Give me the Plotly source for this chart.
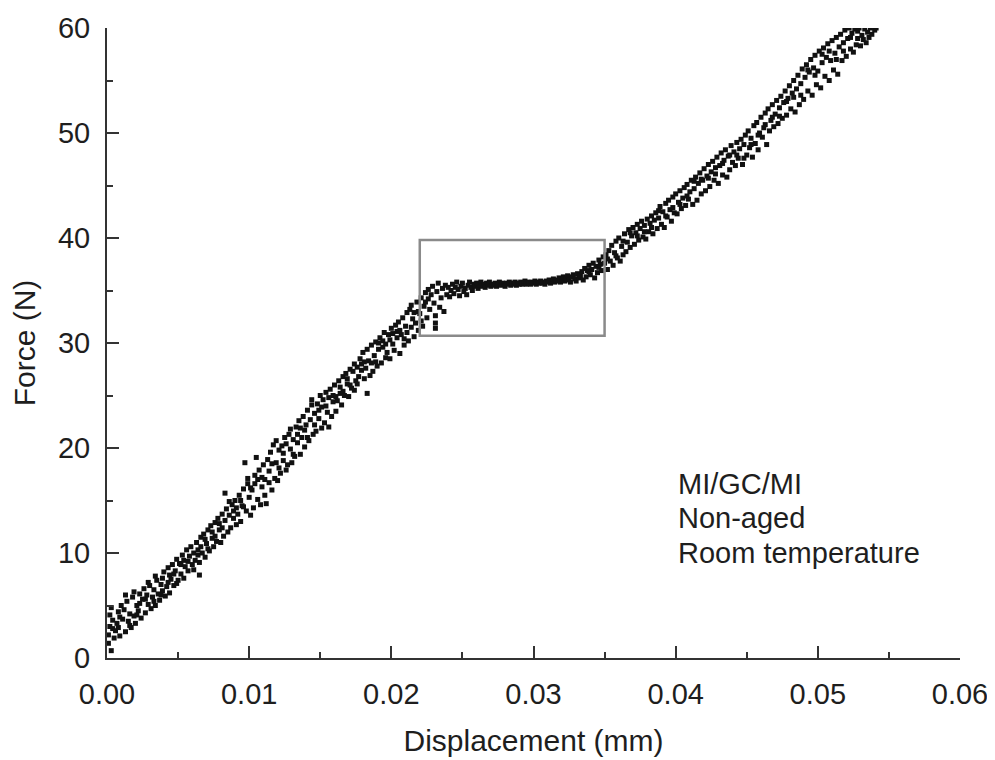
import plotly.graph_objects as go

# ---- data (displacement in mm, force in N) ----
elastic_points = [
    (0.0003, 0.7), (0.0001, 2.2), (0.0002, 3.0), (0.0004, 3.6), (0.0002, 4.1), (0.0005, 1.9), (0.0003, 4.8), (0.0006, 2.6), (0.0001, 1.4),
    (0.0007, 3.3), (0.0008, 4.4), (0.0009, 2.1), (0.0010, 5.0), (0.0008, 2.9), (0.0011, 3.7),
    (0.0012, 4.6), (0.0013, 2.5), (0.0014, 5.4), (0.0015, 3.5), (0.0016, 4.2), (0.0013, 6.0),
    (0.0017, 2.9), (0.0018, 5.8), (0.0019, 4.0), (0.0020, 3.3), (0.0021, 5.0), (0.0019, 6.3),
    (0.0022, 4.5), (0.0023, 6.1), (0.0024, 3.8), (0.0025, 5.6), (0.0026, 6.6), (0.0023, 5.2),
    (0.0027, 4.3), (0.0028, 6.0), (0.0029, 5.1), (0.0030, 6.9), (0.0031, 4.7), (0.0029, 7.2),
    (0.0032, 5.8), (0.0033, 6.5), (0.0034, 5.0), (0.0035, 7.4), (0.0036, 6.1), (0.0034, 7.8),
    (0.0037, 5.5), (0.0038, 7.0), (0.0039, 6.4), (0.0040, 8.2), (0.0041, 5.9), (0.0039, 7.6),
    (0.0042, 6.8), (0.0043, 8.6), (0.0044, 6.2), (0.0045, 7.5), (0.0046, 8.9), (0.0044, 7.9),
    (0.0047, 6.9), (0.0048, 8.3), (0.0049, 9.4), (0.0050, 7.4), (0.0051, 9.0), (0.0049, 7.1),
    (0.0052, 8.0), (0.0053, 9.8), (0.0054, 7.6), (0.0055, 8.7), (0.0056, 10.3), (0.0054, 9.3),
    (0.0057, 8.3), (0.0058, 9.7), (0.0059, 10.6), (0.0060, 8.9), (0.0061, 10.0), (0.0065, 7.9),
    (0.0062, 9.3), (0.0063, 11.0), (0.0064, 10.3), (0.0065, 9.1), (0.0066, 11.5), (0.0064, 9.8),
    (0.0067, 10.0), (0.0068, 11.8), (0.0069, 9.6), (0.0070, 10.9), (0.0071, 12.2), (0.0069, 11.3),
    (0.0072, 10.2), (0.0073, 12.6), (0.0074, 11.4), (0.0075, 10.6), (0.0076, 12.9), (0.0074, 12.0),
    (0.0077, 11.1), (0.0078, 13.3), (0.0079, 12.2), (0.0080, 11.0), (0.0081, 13.7), (0.0079, 12.8),
    (0.0082, 11.6), (0.0083, 15.7), (0.0083, 13.1), (0.0084, 14.2), (0.0085, 12.0), (0.0086, 13.6),
    (0.0087, 12.4), (0.0088, 14.6), (0.0089, 13.3), (0.0090, 15.0), (0.0091, 12.7), (0.0089, 14.0),
    (0.0092, 13.7), (0.0093, 15.5), (0.0094, 13.0), (0.0095, 14.5), (0.0096, 16.1), (0.0094, 15.0),
    (0.0097, 18.6), (0.0098, 14.0), (0.0099, 16.6), (0.0100, 15.3), (0.0101, 13.6), (0.0099, 17.1),
    (0.0102, 16.0), (0.0103, 14.3), (0.0104, 17.4), (0.0105, 19.1), (0.0106, 15.1), (0.0104, 16.6),
    (0.0107, 17.9), (0.0108, 14.6), (0.0109, 16.3), (0.0110, 18.4), (0.0111, 15.5), (0.0109, 17.2),
    (0.0112, 14.7), (0.0113, 18.9), (0.0114, 16.7), (0.0115, 19.6), (0.0116, 16.0), (0.0114, 17.8),
    (0.0117, 20.3), (0.0118, 17.1), (0.0119, 18.6), (0.0120, 16.9), (0.0121, 19.8), (0.0119, 20.7),
    (0.0122, 17.6), (0.0123, 20.2), (0.0124, 18.8), (0.0125, 21.0), (0.0126, 17.9), (0.0124, 19.5),
    (0.0127, 18.4), (0.0128, 21.3), (0.0129, 19.9), (0.0130, 18.6), (0.0131, 20.8), (0.0129, 21.8),
    (0.0132, 19.2), (0.0133, 22.0), (0.0134, 20.5), (0.0135, 22.6), (0.0136, 19.4), (0.0134, 21.3),
    (0.0137, 21.0), (0.0138, 23.0), (0.0139, 20.1), (0.0140, 22.2), (0.0141, 23.6), (0.0139, 21.7),
    (0.0142, 20.7), (0.0143, 22.7), (0.0144, 24.1), (0.0145, 21.3), (0.0146, 23.3), (0.0144, 24.6),
    (0.0147, 21.6), (0.0148, 24.2), (0.0149, 22.8), (0.0150, 25.0), (0.0151, 21.9), (0.0149, 23.6),
    (0.0152, 24.6), (0.0153, 22.4), (0.0154, 25.3), (0.0155, 23.4), (0.0156, 22.0), (0.0154, 24.0),
    (0.0157, 25.6), (0.0158, 23.0), (0.0159, 24.4), (0.0160, 26.0), (0.0161, 23.5), (0.0159, 25.0),
    (0.0162, 24.5), (0.0163, 26.4), (0.0164, 25.2), (0.0165, 24.1), (0.0166, 26.8), (0.0164, 25.8),
    (0.0167, 25.0), (0.0168, 27.1), (0.0169, 26.1), (0.0170, 24.9), (0.0171, 27.5), (0.0169, 26.6),
    (0.0172, 25.7), (0.0173, 27.3), (0.0174, 28.0), (0.0175, 26.4), (0.0176, 27.7), (0.0174, 25.5),
    (0.0177, 26.8), (0.0178, 28.5), (0.0179, 27.4), (0.0180, 29.1), (0.0181, 26.6), (0.0179, 28.0),
    (0.0183, 25.2), (0.0182, 27.6), (0.0183, 29.4), (0.0184, 28.3), (0.0185, 26.9), (0.0186, 29.8),
    (0.0187, 27.3), (0.0188, 28.8), (0.0189, 30.1), (0.0190, 27.8), (0.0191, 29.4), (0.0189, 28.2),
    (0.0192, 30.5), (0.0193, 28.1), (0.0194, 29.6), (0.0195, 31.0), (0.0196, 28.6), (0.0194, 30.2),
    (0.0197, 29.1), (0.0198, 30.8), (0.0199, 28.5), (0.0200, 31.4), (0.0201, 29.9), (0.0199, 30.3),
    (0.0202, 29.3), (0.0203, 31.7), (0.0204, 30.5), (0.0205, 32.0), (0.0206, 29.0), (0.0204, 31.1),
    (0.0207, 30.8), (0.0208, 32.4), (0.0209, 29.8), (0.0210, 31.6), (0.0211, 32.9), (0.0209, 30.4),
    (0.0212, 30.2), (0.0213, 33.2), (0.0214, 31.5), (0.0215, 32.3), (0.0216, 30.6), (0.0214, 33.6),
    (0.0217, 31.9), (0.0218, 33.9), (0.0219, 31.2), (0.0220, 32.8), (0.0221, 34.3), (0.0219, 33.0),
    (0.0222, 31.6), (0.0223, 33.5), (0.0224, 34.8), (0.0225, 32.4), (0.0226, 35.1), (0.0224, 33.9),
    (0.0227, 33.2), (0.0228, 34.6), (0.0229, 35.4), (0.0230, 33.8), (0.0231, 31.4), (0.0231, 31.9), (0.0231, 32.6),
    (0.0232, 34.9), (0.0233, 35.7), (0.0234, 33.4), (0.0235, 34.3), (0.0236, 35.2),
    (0.0237, 33.0), (0.0238, 35.5), (0.0239, 34.6), (0.0240, 35.3), (0.0241, 34.4),
]

elastic_extra_points = [
    (0.0004, 2.8), (0.0009, 3.9), (0.0016, 3.1), (0.0021, 4.1), (0.0027, 5.6), (0.0033, 5.4),
    (0.0038, 6.0), (0.0043, 7.2), (0.0047, 8.0), (0.0052, 8.9), (0.0057, 9.2), (0.0061, 8.4),
    (0.0066, 10.6), (0.0071, 10.4), (0.0076, 11.6), (0.0081, 12.4), (0.0086, 14.9), (0.0091, 14.3),
    (0.0096, 14.4), (0.0101, 16.2), (0.0106, 17.0), (0.0111, 17.0), (0.0116, 18.5), (0.0121, 18.1),
    (0.0126, 20.4), (0.0131, 19.4), (0.0136, 21.9), (0.0141, 21.0), (0.0146, 22.2), (0.0151, 23.9),
    (0.0156, 24.8), (0.0161, 24.9), (0.0166, 25.4), (0.0171, 26.0), (0.0176, 26.1), (0.0181, 28.2),
    (0.0186, 28.1), (0.0191, 30.0), (0.0196, 29.9), (0.0201, 30.9), (0.0206, 31.2), (0.0211, 31.0),
    (0.0216, 32.9), (0.0221, 32.1), (0.0226, 34.2),
]

plateau_points = [
    (0.0242, 35.0), (0.0243, 35.6), (0.0244, 34.7), (0.0245, 35.3), (0.0246, 35.8), (0.0247, 35.1),
    (0.0248, 34.5), (0.0249, 35.4), (0.0250, 35.7), (0.0251, 34.9), (0.0252, 35.2), (0.0253, 34.6),
    (0.0254, 35.5), (0.0255, 35.8), (0.0256, 35.3), (0.0257, 35.0), (0.0258, 35.6), (0.0259, 35.4),
    (0.0260, 35.7), (0.0261, 35.2), (0.0262, 35.5), (0.0263, 35.8), (0.0264, 35.4), (0.0265, 35.6),
    (0.0266, 35.3), (0.0267, 35.7), (0.0268, 35.5), (0.0269, 35.8), (0.0270, 35.4), (0.0271, 35.6),
    (0.0272, 35.5), (0.0273, 35.7), (0.0274, 35.4), (0.0275, 35.6), (0.0276, 35.8), (0.0277, 35.5),
    (0.0278, 35.7), (0.0279, 35.6), (0.0280, 35.4), (0.0281, 35.7), (0.0282, 35.6), (0.0283, 35.8),
    (0.0284, 35.5), (0.0285, 35.7), (0.0286, 35.6), (0.0287, 35.8), (0.0288, 35.5), (0.0289, 35.7),
    (0.0290, 35.6), (0.0291, 35.8), (0.0292, 35.6), (0.0293, 35.7), (0.0294, 35.9), (0.0295, 35.6),
    (0.0296, 35.8), (0.0297, 35.7), (0.0298, 35.6), (0.0299, 35.8), (0.0300, 35.7), (0.0301, 35.9),
    (0.0302, 35.6), (0.0303, 35.8), (0.0304, 35.7), (0.0305, 35.9), (0.0306, 35.7), (0.0307, 35.8),
    (0.0308, 35.6), (0.0309, 35.9), (0.0310, 35.8), (0.0311, 36.0), (0.0312, 35.7), (0.0313, 35.9),
    (0.0314, 36.1), (0.0315, 35.8), (0.0316, 36.0), (0.0317, 35.9), (0.0318, 36.2), (0.0319, 35.8),
    (0.0320, 36.0), (0.0321, 36.3), (0.0322, 35.9), (0.0323, 36.1), (0.0324, 36.4), (0.0325, 36.0),
    (0.0326, 35.8), (0.0327, 36.3), (0.0328, 36.5), (0.0329, 36.1), (0.0330, 35.9), (0.0331, 36.6),
    (0.0332, 36.2), (0.0333, 36.4), (0.0334, 36.8), (0.0335, 36.0),
]

hardening_points = [
    (0.0336, 37.1), (0.0337, 36.3), (0.0338, 36.9), (0.0339, 37.4), (0.0340, 36.5), (0.0341, 37.0), (0.0342, 37.6), (0.0343, 36.2),
    (0.0344, 37.3), (0.0345, 36.7), (0.0346, 37.9), (0.0347, 37.5), (0.0348, 36.9), (0.0349, 38.2),
    (0.0350, 37.6), (0.0351, 38.4), (0.0352, 37.0), (0.0353, 38.8), (0.0354, 37.8), (0.0355, 39.3),
    (0.0356, 37.4), (0.0357, 38.6), (0.0358, 39.7), (0.0359, 38.1), (0.0360, 40.0), (0.0361, 37.8), (0.0362, 39.2), (0.0363, 38.4),
    (0.0364, 40.4), (0.0365, 38.7), (0.0366, 39.6), (0.0367, 40.8), (0.0368, 39.1), (0.0369, 40.2),
    (0.0370, 41.0), (0.0371, 39.4), (0.0372, 40.5), (0.0373, 41.3), (0.0374, 39.8), (0.0375, 40.9),
    (0.0376, 41.6), (0.0377, 40.1), (0.0378, 41.2), (0.0379, 39.9), (0.0380, 41.8), (0.0381, 40.6),
    (0.0382, 41.4), (0.0383, 42.1), (0.0384, 40.4), (0.0385, 41.7), (0.0386, 42.4), (0.0387, 40.9),
    (0.0388, 41.9), (0.0389, 43.0), (0.0390, 41.3), (0.0391, 42.5), (0.0392, 41.0), (0.0393, 43.3),
    (0.0394, 42.0), (0.0395, 43.6), (0.0396, 42.7), (0.0397, 41.6), (0.0398, 43.9), (0.0399, 42.4),
    (0.0400, 44.2), (0.0401, 42.3), (0.0402, 43.4), (0.0403, 44.5), (0.0404, 42.8), (0.0405, 43.8),
    (0.0406, 44.8), (0.0407, 43.1), (0.0408, 45.1), (0.0409, 43.7), (0.0410, 44.4), (0.0411, 45.5), (0.0412, 43.2),
    (0.0413, 44.7), (0.0414, 45.8), (0.0415, 43.6), (0.0416, 45.2), (0.0417, 46.2), (0.0418, 44.2), (0.0419, 45.5),
    (0.0420, 46.6), (0.0421, 44.5), (0.0422, 45.9), (0.0423, 47.0), (0.0424, 44.9), (0.0425, 46.3),
    (0.0426, 47.3), (0.0427, 45.5), (0.0428, 46.7), (0.0429, 47.7), (0.0430, 45.2), (0.0431, 46.9),
    (0.0432, 48.1), (0.0433, 46.0), (0.0434, 47.4), (0.0435, 48.4), (0.0436, 45.8), (0.0437, 47.8),
    (0.0438, 46.5), (0.0439, 48.8), (0.0440, 47.2), (0.0441, 48.2), (0.0442, 46.9), (0.0443, 49.1),
    (0.0444, 47.6), (0.0445, 48.5), (0.0446, 49.4), (0.0447, 47.0), (0.0448, 48.9), (0.0449, 49.8),
    (0.0450, 47.9), (0.0451, 50.2), (0.0452, 48.6), (0.0453, 49.5), (0.0454, 47.7), (0.0455, 50.7),
    (0.0456, 49.0), (0.0457, 51.0), (0.0458, 48.4), (0.0459, 50.0), (0.0460, 51.5), (0.0461, 49.6),
    (0.0462, 50.5), (0.0463, 51.9), (0.0464, 48.9), (0.0465, 52.3), (0.0466, 50.2), (0.0467, 51.2),
    (0.0468, 52.7), (0.0469, 50.6), (0.0470, 51.8), (0.0471, 53.1), (0.0472, 50.9), (0.0473, 52.4),
    (0.0474, 53.5), (0.0475, 51.4), (0.0476, 52.9), (0.0477, 54.0), (0.0478, 51.7), (0.0479, 53.3),
    (0.0480, 54.5), (0.0481, 52.3), (0.0482, 53.8), (0.0483, 55.0), (0.0484, 52.0), (0.0485, 54.2),
    (0.0486, 55.5), (0.0487, 52.7), (0.0488, 54.7), (0.0489, 56.1), (0.0490, 53.2), (0.0491, 55.3),
    (0.0492, 56.5), (0.0493, 54.0), (0.0494, 55.8), (0.0495, 57.0), (0.0496, 53.6), (0.0497, 56.2),
    (0.0498, 57.4), (0.0499, 54.6), (0.0500, 55.9), (0.0501, 57.8), (0.0502, 54.3), (0.0503, 56.7),
    (0.0504, 58.1), (0.0505, 55.4), (0.0506, 57.2), (0.0507, 58.5), (0.0508, 55.0), (0.0509, 56.9),
    (0.0510, 58.8), (0.0511, 56.0), (0.0512, 57.6), (0.0513, 59.1), (0.0514, 55.6), (0.0515, 58.2),
    (0.0516, 59.4), (0.0517, 56.9), (0.0518, 58.6), (0.0519, 59.8), (0.0520, 57.3), (0.0521, 59.0),
    (0.0522, 60.0), (0.0523, 58.0), (0.0524, 59.5), (0.0525, 57.7), (0.0526, 59.9), (0.0527, 58.4),
    (0.0528, 59.7), (0.0529, 60.0), (0.0530, 58.3), (0.0531, 59.3), (0.0532, 58.9), (0.0533, 59.9),
    (0.0534, 58.6), (0.0535, 59.6), (0.0536, 59.1), (0.0537, 60.0), (0.0538, 59.4), (0.0540, 59.8), (0.0541, 60.0),
]

hardening_extra_points = [
    (0.0339, 36.8), (0.0346, 37.2), (0.0352, 38.0), (0.0358, 38.3), (0.0363, 39.7), (0.0368, 40.5),
    (0.0373, 40.2), (0.0378, 40.6), (0.0383, 41.0), (0.0388, 42.6), (0.0393, 42.1), (0.0398, 42.9),
    (0.0403, 43.2), (0.0408, 44.0), (0.0413, 45.4), (0.0418, 45.6), (0.0423, 45.7), (0.0428, 46.1),
    (0.0433, 47.1), (0.0438, 47.9), (0.0443, 47.9), (0.0448, 47.6), (0.0453, 48.9), (0.0458, 49.8),
    (0.0463, 50.8), (0.0468, 51.5), (0.0473, 51.6), (0.0478, 53.0), (0.0483, 53.4), (0.0488, 53.6),
    (0.0493, 56.0), (0.0498, 55.5), (0.0503, 57.5), (0.0508, 57.8), (0.0513, 57.0), (0.0518, 57.8),
    (0.0523, 59.1), (0.0528, 59.0),
]

x_ticks = [0.00, 0.01, 0.02, 0.03, 0.04, 0.05, 0.06]
y_ticks = [0, 10, 20, 30, 40, 50, 60]
highlight_box = {"x0": 0.022, "x1": 0.035, "y0": 30.7, "y1": 39.8}
note_lines = ["MI/GC/MI", "Non-aged", "Room temperature"]
note_x = 0.040
note_y = [16.6, 13.3, 10.0]

FONT = "Liberation Sans, Arial, Helvetica, sans-serif"
TEXT_COLOR = "#1e1e1e"

fig = go.Figure()
for pts in (elastic_points, elastic_extra_points, plateau_points, hardening_points, hardening_extra_points):
    fig.add_trace(go.Scatter(
        x=[p[0] for p in pts], y=[p[1] for p in pts],
        mode="markers",
        marker=dict(symbol="square", size=5, color="#111111", line=dict(width=0)),
        showlegend=False, hoverinfo="x+y",
    ))

fig.add_shape(type="rect", xref="x", yref="y",
              x0=highlight_box["x0"], x1=highlight_box["x1"],
              y0=highlight_box["y0"], y1=highlight_box["y1"],
              line=dict(color="#8a8a8a", width=2.5), fillcolor="rgba(0,0,0,0)")

for txt, yy in zip(note_lines, note_y):
    fig.add_annotation(x=note_x, y=yy, xref="x", yref="y", text=txt, showarrow=False,
                       xanchor="left", yanchor="middle",
                       font=dict(family=FONT, size=29, color=TEXT_COLOR))

axis_common = dict(
    showline=True, linecolor="#333333", linewidth=2, mirror=False,
    showgrid=False, zeroline=False, automargin=False,
    ticks="inside", ticklen=12, tickwidth=1.5, tickcolor="#333333",
    tickfont=dict(family=FONT, size=29, color=TEXT_COLOR),
    ticklabelstandoff=9,
)

fig.update_xaxes(range=[0, 0.06], tickvals=x_ticks, tickformat=".2f",
                 minor=dict(ticks="inside", ticklen=6, dtick=0.005, tick0=0, tickcolor="#333333", tickwidth=1.5),
                 title=dict(text="Displacement (mm)", font=dict(family=FONT, size=30, color=TEXT_COLOR), standoff=21),
                 **axis_common)
fig.update_yaxes(range=[0, 60], tickvals=y_ticks,
                 minor=dict(ticks="inside", ticklen=6, dtick=5, tick0=0, tickcolor="#333333", tickwidth=1.5),
                 title=dict(text="Force (N)", font=dict(family=FONT, size=30, color=TEXT_COLOR), standoff=13),
                 **axis_common)

# the page adds an 8 px body margin, so the figure is sized to fit the 995x760 window
fig.update_layout(
    width=987, height=752,
    margin=dict(l=99, r=35, t=20, b=102),
    paper_bgcolor="white", plot_bgcolor="white",
    showlegend=False,
)

fig.write_html("out.html")
